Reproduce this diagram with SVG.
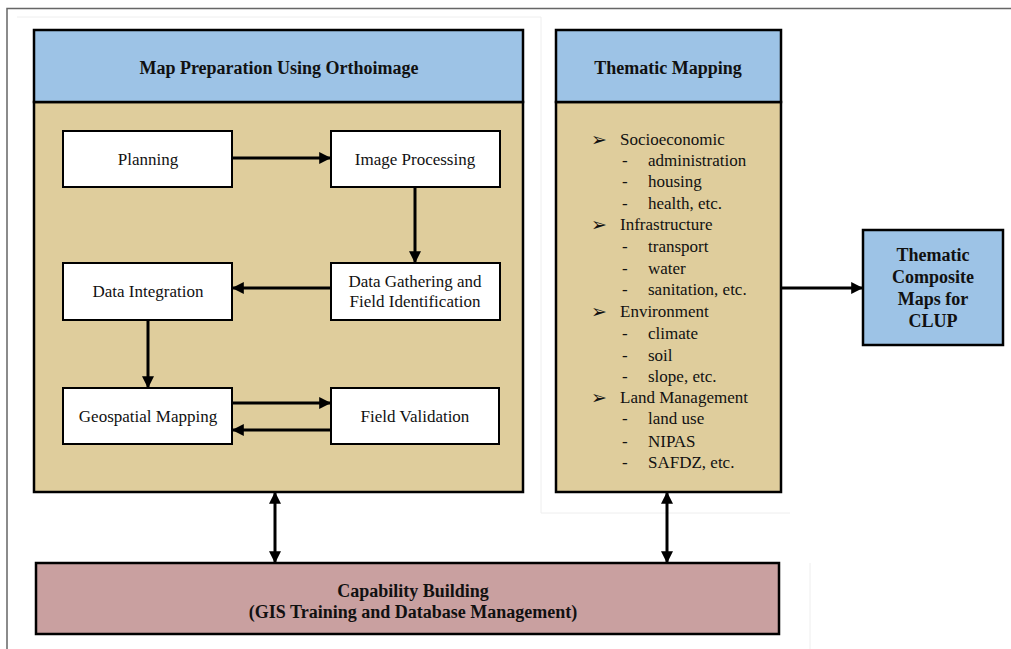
<svg xmlns="http://www.w3.org/2000/svg" width="1011" height="649" viewBox="0 0 1011 649">
<defs>
<marker id="ah" viewBox="0 0 10 10" refX="9" refY="5" markerWidth="4" markerHeight="4" markerUnits="strokeWidth" orient="auto-start-reverse">
<path d="M0,0 L10,5 L0,10 Z" fill="#000"/>
</marker>
<style>
.hdr{fill:#9DC3E6;stroke:#000;stroke-width:2.5}
.body{fill:#DFCD9C;stroke:#000;stroke-width:2.5}
.box{fill:#fff;stroke:#000;stroke-width:2}
.t{font-family:"Liberation Serif","Times New Roman",serif;font-size:17px;fill:#111}
.b{font-family:"Liberation Serif","Times New Roman",serif;font-size:18px;font-weight:bold;fill:#111}
.c{text-anchor:middle}
.con{stroke:#000;stroke-width:3;fill:none;marker-end:url(#ah)}
.dbl{stroke:#000;stroke-width:3;fill:none;marker-end:url(#ah);marker-start:url(#ah)}
.blt{font-family:"DejaVu Sans",sans-serif;font-size:19px;fill:#111}
</style>
</defs>
<rect width="1011" height="649" fill="#fff"/>
<g id="frame" fill="none">
<path d="M7,649 V8.5 H1011" stroke="#666" stroke-width="1.5"/>
<path d="M17,17 H541 V513 H790" stroke="#eee" stroke-width="1"/>
<path d="M810,563 V649" stroke="#eee" stroke-width="1"/>
</g>
<g id="map-preparation">
<rect class="body" x="34" y="102" width="489" height="390"/>
<rect class="hdr" x="34" y="30" width="489" height="72"/>
<text class="b c" x="279" y="74">Map Preparation Using Orthoimage</text>
</g>
<g id="thematic-mapping">
<rect class="body" x="556" y="102" width="225" height="390"/>
<rect class="hdr" x="556" y="30" width="225" height="72"/>
<text class="b c" x="668" y="74">Thematic Mapping</text>
<g class="t">
<text class="blt" x="591" y="146">➢</text><text x="620" y="145">Socioeconomic</text>
<text x="622" y="166">-</text><text x="648" y="166">administration</text>
<text x="622" y="187">-</text><text x="648" y="187">housing</text>
<text x="622" y="209">-</text><text x="648" y="209">health, etc.</text>
<text class="blt" x="591" y="231">➢</text><text x="620" y="230">Infrastructure</text>
<text x="622" y="252">-</text><text x="648" y="252">transport</text>
<text x="622" y="274">-</text><text x="648" y="274">water</text>
<text x="622" y="295">-</text><text x="648" y="295">sanitation, etc.</text>
<text class="blt" x="591" y="318">➢</text><text x="620" y="317">Environment</text>
<text x="622" y="339">-</text><text x="648" y="339">climate</text>
<text x="622" y="361">-</text><text x="648" y="361">soil</text>
<text x="622" y="382">-</text><text x="648" y="382">slope, etc.</text>
<text class="blt" x="591" y="404">➢</text><text x="620" y="403">Land Management</text>
<text x="622" y="424">-</text><text x="648" y="424">land use</text>
<text x="622" y="447">-</text><text x="648" y="447">NIPAS</text>
<text x="622" y="468">-</text><text x="648" y="468">SAFDZ, etc.</text>
</g>
</g>
<g id="planning"><rect class="box" x="63" y="131" width="169" height="56"/><text class="t c" x="148" y="165">Planning</text></g>
<g id="image-processing"><rect class="box" x="331" y="131" width="169" height="56"/><text class="t c" x="415" y="165">Image Processing</text></g>
<g id="data-integration"><rect class="box" x="63" y="263" width="169" height="57"/><text class="t c" x="148" y="297">Data Integration</text></g>
<g id="data-gathering"><rect class="box" x="331" y="263" width="169" height="57"/><text class="t c" x="415" y="287">Data Gathering and</text><text class="t c" x="415" y="307">Field Identification</text></g>
<g id="geospatial-mapping"><rect class="box" x="63" y="388" width="169" height="56"/><text class="t c" x="148" y="422">Geospatial Mapping</text></g>
<g id="field-validation"><rect class="box" x="331" y="388" width="168" height="56"/><text class="t c" x="415" y="422">Field Validation</text></g>
<g id="thematic-composite">
<rect class="hdr" x="863" y="230" width="140" height="115"/>
<text class="b c" x="933" y="261" font-size="18.5">Thematic</text>
<text class="b c" x="933" y="283" font-size="18.5">Composite</text>
<text class="b c" x="933" y="305" font-size="18.5">Maps for</text>
<text class="b c" x="933" y="327" font-size="18.5">CLUP</text>
</g>
<g id="capability-building">
<rect x="36" y="563" width="743" height="71" fill="#C9A0A0" stroke="#000" stroke-width="2.5"/>
<text class="b c" x="413" y="597" font-size="18.5">Capability Building</text>
<text class="b c" x="413" y="618" font-size="18.5">(GIS Training and Database Management)</text>
</g>
<g id="connectors">
<path class="con" d="M232,158 H330"/>
<path class="con" d="M415,187 V262"/>
<path class="con" d="M331,288 H233"/>
<path class="con" d="M148,320 V387"/>
<path class="con" d="M232,403 H330"/>
<path class="con" d="M331,430 H233"/>
<path class="con" d="M781,288 H862"/>
<path class="dbl" d="M275,493 V562"/>
<path class="dbl" d="M667,493 V562"/>
</g>
</svg>
